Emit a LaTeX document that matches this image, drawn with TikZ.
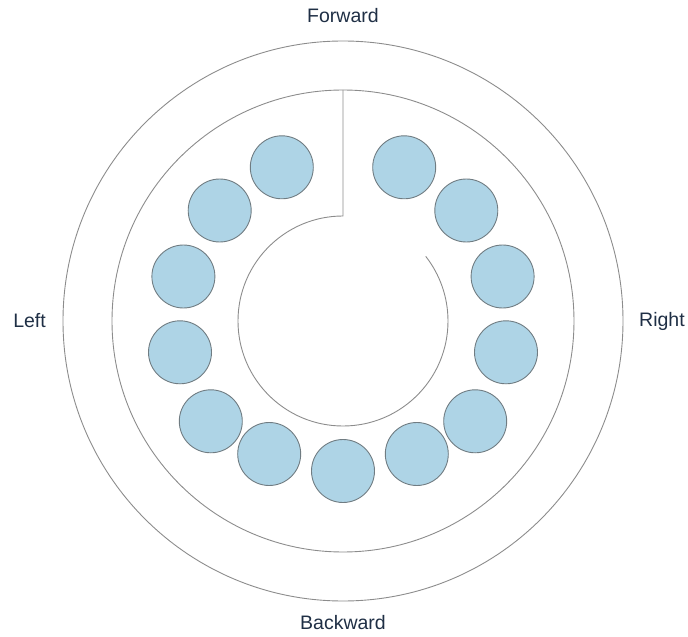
\documentclass[tikz,border=0pt]{standalone}
\usepackage{xcolor}
\usepackage{fontspec}
\setmainfont{Liberation Sans}
\usepackage{tikz}
\usetikzlibrary{positioning}
\definecolor{wire}{HTML}{8C8C8C}
\definecolor{ballfill}{HTML}{AED4E6}
\definecolor{ballline}{HTML}{707C82}
\definecolor{ink}{HTML}{1F2F45}

\begin{document}
\begin{tikzpicture}[
  x=1pt, y=1pt,
  font=\fontsize{19.5}{23}\selectfont,
  ring/.style={draw=wire, line width=0.9pt, circle, inner sep=0pt, outer sep=0pt},
  ball/.style={draw=ballline, fill=ballfill, line width=0.9pt, circle, inner sep=0pt, minimum size=63pt},
  dir/.style={text=ink, inner sep=0pt}
]
\useasboundingbox (-343,-316) rectangle (345,321);
\node[ring, minimum size=560pt] (outer) at (0,0) {};
\node[ring, minimum size=462pt] (mid) at (0,0) {};
% spiral wall
\coordinate (tip) at (0,105);
\draw[wire, line width=0.9pt] (mid.north) -- (tip) arc[start angle=90, end angle=398, radius=105];
% balls, left side top to bottom
\node[ball] (b1) at (-61.2,153.7) {};
\node[ball] (b2) at (-123.3,110.5) {};
\node[ball] (b3) at (-159.6,44.5) {};
\node[ball] (b4) at (-163,-31.3) {};
\node[ball] (b5) at (-132.2,-100.3) {};
\node[ball] (b6) at (-73.8,-133) {};
\node[ball] (b7) at (0,-150) {};
% right side bottom to top
\node[ball] (b8) at (73.8,-133) {};
\node[ball] (b9) at (132.2,-100.3) {};
\node[ball] (b10) at (163,-31.3) {};
\node[ball] (b11) at (159.6,44.5) {};
\node[ball] (b12) at (123.3,110.5) {};
\node[ball] (b13) at (61.2,153.7) {};
% directions
\node[dir, above=18pt of outer] (fwd) {Forward};
\node[dir, below=14pt of outer] (bwd) {Backward};
\node[dir, left=17pt of outer] (lft) {Left};
\node[dir, right=16pt of outer] (rgt) {Right};
\end{tikzpicture}
\end{document}
